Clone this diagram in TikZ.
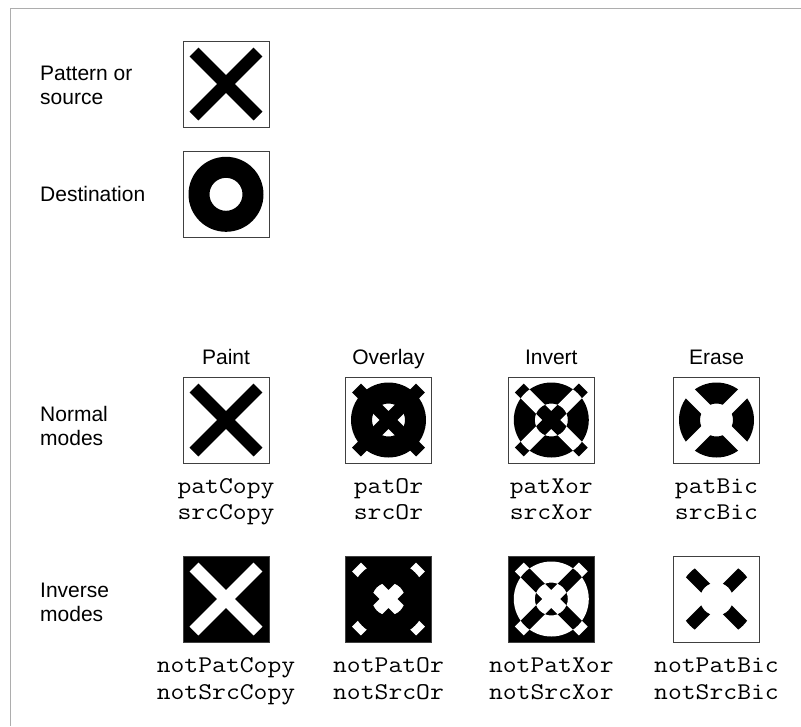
\documentclass[tikz,border=0pt]{standalone}
\usepackage{fontspec}
\setmainfont{Liberation Sans}
\newfontfamily\codefont{Latin Modern Mono}[FakeStretch=1.12]
\newcommand{\XPath}{(-27.58,-36.42) -- (36.42,27.58) -- (27.58,36.42) -- (-36.42,-27.58) -- cycle (-27.58,36.42) -- (-36.42,27.58) -- (27.58,-36.42) -- (36.42,-27.58) -- cycle}
\newcommand{\RingPath}{(0,0) circle[radius=37.5] (0,0) circle[radius=16.5]}
\tikzset{
  box/.style={draw=black!75, line width=1pt, minimum size=86pt, inner sep=0pt, outer sep=0pt},
  lbl/.style={font=\fontsize{21}{24}\selectfont, anchor=base west, inner sep=0pt},
  hdr/.style={font=\fontsize{21}{24}\selectfont, anchor=base, inner sep=0pt},
  codetxt/.style={font=\codefont\fontsize{24}{26}\selectfont, anchor=base, inner sep=0pt},
  framecol/.style={draw=black!32, line width=1.5pt}
}
\begin{document}
\begin{tikzpicture}[x=1pt,y=-1pt]
\useasboundingbox (0,0) rectangle (801,726);
% frame
\draw[framecol] (10.5,726) -- (10.5,8.5) -- (801,8.5);

% boxes
\node[box] (pat) at (226,84) {};
\node[box] (dst) at (226,194.3) {};
\node[box] (n1) at (226,420) {};
\node[box] (n2) at (388.5,420) {};
\node[box] (n3) at (551.3,420) {};
\node[box] (n4) at (716.5,420) {};
\node[box, fill=black] (i1) at (226,599) {};
\node[box, fill=black] (i2) at (388.5,599) {};
\node[box, fill=black] (i3) at (551.3,599) {};
\node[box] (i4) at (716.5,599) {};

% pattern and destination
\begin{scope}[shift={(pat.center)}]
  \fill \XPath;
\end{scope}
\begin{scope}[shift={(dst.center)}]
  \fill[even odd rule] \RingPath;
\end{scope}

% normal modes
\begin{scope}[shift={(n1.center)}]
  \fill \XPath;
\end{scope}
\begin{scope}[shift={(n2.center)}]
  \fill[even odd rule] \RingPath;
  \fill \XPath;
\end{scope}
\begin{scope}[shift={(n3.center)}]
  \fill[even odd rule] \RingPath;
  \fill \XPath;
  \begin{scope}
    \clip \XPath;
    \fill[white, even odd rule] \RingPath;
  \end{scope}
\end{scope}
\begin{scope}[shift={(n4.center)}]
  \fill[even odd rule] \RingPath;
  \fill[white] \XPath;
\end{scope}

% inverse modes
\begin{scope}[shift={(i1.center)}]
  \fill[white] \XPath;
\end{scope}
\begin{scope}[shift={(i2.center)}]
  \fill[white] \XPath;
  \fill[black, even odd rule] \RingPath;
\end{scope}
\begin{scope}[shift={(i3.center)}]
  \fill[white, even odd rule] \RingPath;
  \fill[white] \XPath;
  \begin{scope}
    \clip \XPath;
    \fill[black, even odd rule] \RingPath;
  \end{scope}
\end{scope}
\begin{scope}[shift={(i4.center)}]
  \begin{scope}
    \clip \XPath;
    \fill[black, even odd rule] \RingPath;
  \end{scope}
\end{scope}

% left labels
\node[lbl] (l1a) at (40,80.5) {Pattern or};
\node[lbl] (l1b) at (40,104) {source};
\node[lbl] (l2) at (40,201.5) {Destination};
\node[lbl] (l3a) at (40,421) {Normal};
\node[lbl] (l3b) at (40,445) {modes};
\node[lbl] (l4a) at (40,597.5) {Inverse};
\node[lbl] (l4b) at (40,621) {modes};

% column headers
\node[hdr] (h1) at (226,364) {Paint};
\node[hdr] (h2) at (388.5,364) {Overlay};
\node[hdr] (h3) at (551.3,364) {Invert};
\node[hdr] (h4) at (716.5,364) {Erase};

% mode names
\node[codetxt] (c1a) at (226,493) {patCopy};
\node[codetxt] (c1b) at (226,519.5) {srcCopy};
\node[codetxt] (c2a) at (388.5,493) {patOr};
\node[codetxt] (c2b) at (388.5,519.5) {srcOr};
\node[codetxt] (c3a) at (551.3,493) {patXor};
\node[codetxt] (c3b) at (551.3,519.5) {srcXor};
\node[codetxt] (c4a) at (716.5,493) {patBic};
\node[codetxt] (c4b) at (716.5,519.5) {srcBic};
\node[codetxt] (d1a) at (226,672.7) {notPatCopy};
\node[codetxt] (d1b) at (226,699.3) {notSrcCopy};
\node[codetxt] (d2a) at (388.5,672.7) {notPatOr};
\node[codetxt] (d2b) at (388.5,699.3) {notSrcOr};
\node[codetxt] (d3a) at (551.3,672.7) {notPatXor};
\node[codetxt] (d3b) at (551.3,699.3) {notSrcXor};
\node[codetxt] (d4a) at (716.5,672.7) {notPatBic};
\node[codetxt] (d4b) at (716.5,699.3) {notSrcBic};
\end{tikzpicture}
\end{document}
